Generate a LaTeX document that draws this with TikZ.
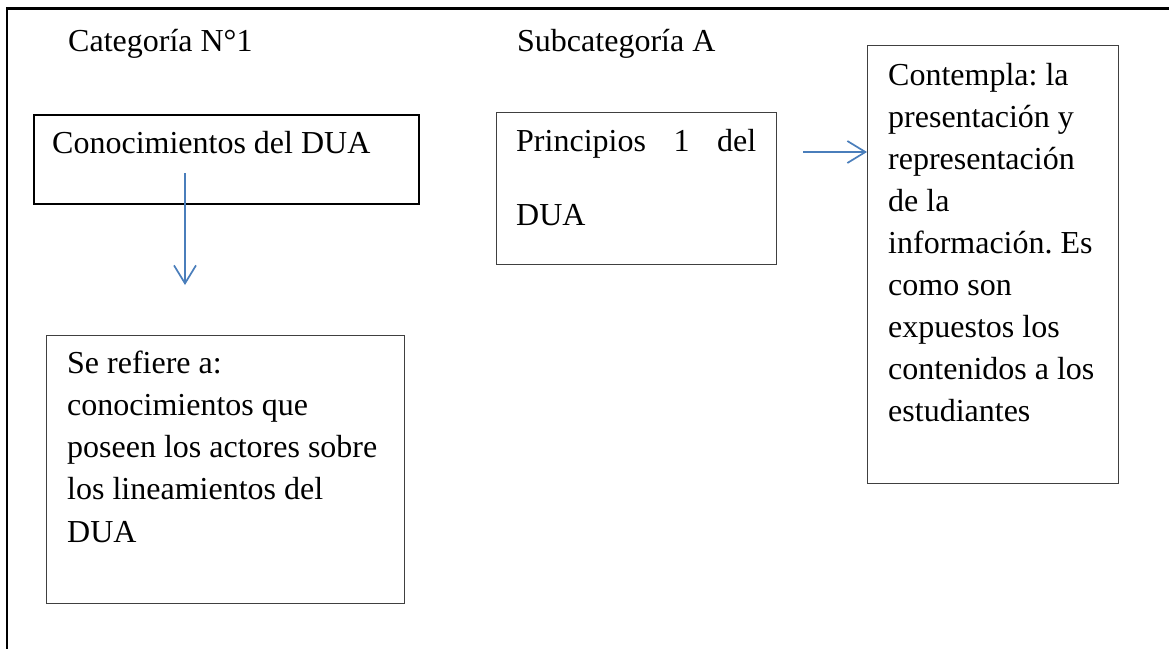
\documentclass[tikz,border=0pt]{standalone}
\usepackage{fontspec}
\setmainfont{Liberation Serif}
\usetikzlibrary{arrows.meta}
\definecolor{arrowblue}{HTML}{4A7EBB}
\definecolor{boxgray}{HTML}{404040}
\tikzset{
  frameline/.style={line width=2.4pt, black},
  thickbox/.style={draw=black, line width=2.2pt, minimum width=#1, anchor=north west, inner sep=0pt},
  thinbox/.style={draw=boxgray, line width=1.4pt, anchor=north west, inner sep=0pt},
  txt/.style={anchor=base west, inner sep=0pt},
  conn/.style={draw=arrowblue, line width=1.7pt, -{Straight Barb[length=18pt, width=22pt, line width=1.7pt]}}
}
\newcommand{\bodyfont}[1]{\fontsize{32}{#1}\selectfont\frenchspacing}
\begin{document}
\begin{tikzpicture}[x=1pt, y=-1pt]
\useasboundingbox (0,0) rectangle (1169,648);
\clip (0,0) rectangle (1169,648);
% outer frame (open to the right and below)
\draw[frameline] (7,660) -- (7,8.5) -- (1180,8.5);

% titles
\node[txt] (cat) at (68,51) {\bodyfont{38}Categoría N°1};
\node[txt] (sub) at (517,51) {\bodyfont{38}Subcategoría A};

% boxes
\node[thickbox=385pt, minimum height=89pt] (b1) at (33,114) {};
\node[thinbox, minimum width=358pt, minimum height=268pt] (b2) at (46,335) {};
\node[thinbox, minimum width=280pt, minimum height=152pt] (b3) at (496,112) {};
\node[thinbox, minimum width=251pt, minimum height=438pt] (b4) at (867,45) {};

% texts
\node[txt] (t1) at (52,153) {\bodyfont{38}Conocimientos del DUA};
\node[txt] (t2) at (67,373) {\parbox[t]{330pt}{\bodyfont{42.3}Se refiere a:\\conocimientos que\\poseen los actores sobre\\los lineamientos del\\DUA}};
\node[txt] (t3) at (516,151) {\parbox[t]{240pt}{\bodyfont{74}Principios\hfill 1\hfill del\\DUA}};
\node[txt] (t4) at (888,85) {\parbox[t]{225pt}{\bodyfont{42}Contempla: la\\presentación y\\representación\\de la\\información. Es\\como son\\expuestos los\\contenidos a los\\estudiantes}};

% connectors
\coordinate (d1) at (185,173);
\coordinate (d2) at (185,285);
\coordinate (h1) at (803,152);
\coordinate (h2) at (867,152);
\draw[conn] (d1) -- (d2);
\draw[conn] (h1) -- (h2);
\end{tikzpicture}
\end{document}
